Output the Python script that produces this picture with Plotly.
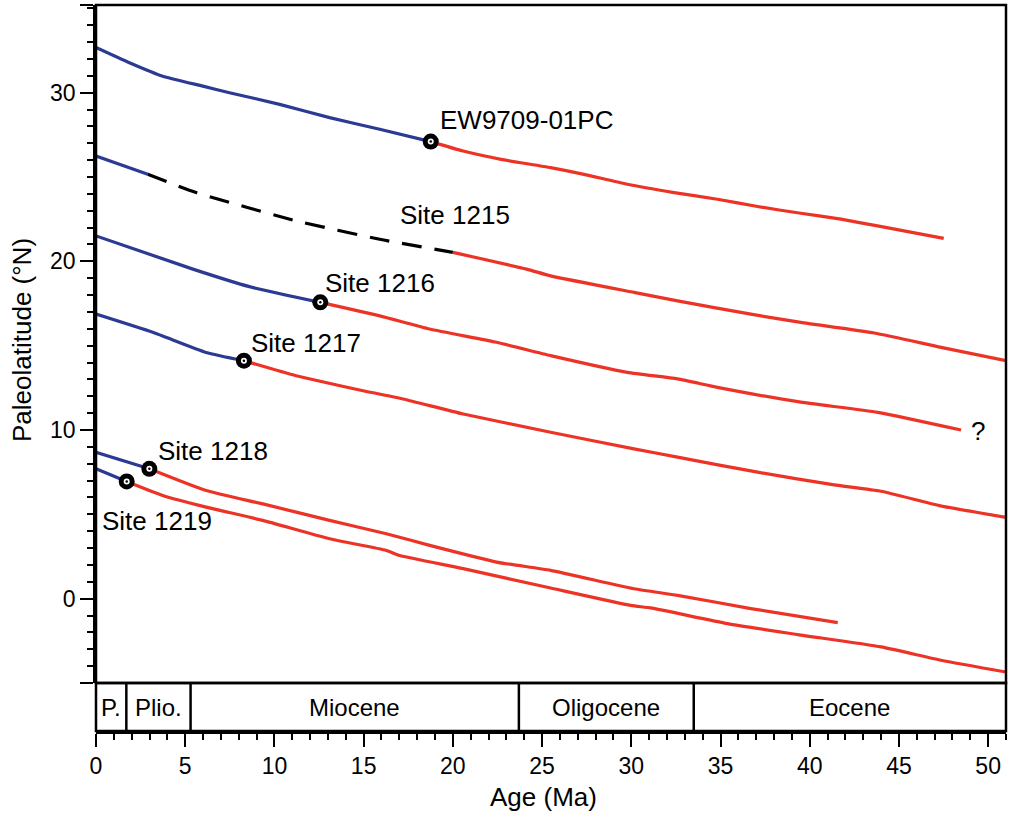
import plotly.graph_objects as go

# ---------------- data ----------------
ew_blue_age = [0, 1.87, 3.74, 5.99, 7.48, 10.29, 13.09, 15.9, 18.76]
ew_blue_lat = [32.68, 31.78, 30.98, 30.39, 30.0, 29.31, 28.52, 27.83, 27.1]
ew_red_age = [18.76, 20.58, 22.7, 25.48, 27.35, 29.78, 32.4, 34.83, 37.08, 39.5, 41.75, 43.8, 47.51]
ew_red_lat = [27.1, 26.54, 26.05, 25.56, 25.16, 24.57, 24.08, 23.68, 23.25, 22.85, 22.5, 22.1, 21.36]

s1215_blue_age = [0, 2.9]
s1215_blue_lat = [26.25, 25.16]
s1215_dash_age = [2.9, 5.61, 11.22, 15.9, 20.0]
s1215_dash_lat = [25.16, 24.08, 22.4, 21.31, 20.53]
s1215_red_age = [20.0, 24.13, 25.48, 30.15, 32.59, 36.7, 39.5, 43.62, 47.36, 51.0]
s1215_red_lat = [20.53, 19.54, 19.14, 18.16, 17.66, 16.87, 16.38, 15.75, 14.9, 14.11]

s1216_blue_age = [0, 5.43, 8.6, 12.57]
s1216_blue_lat = [21.51, 19.54, 18.5, 17.57]
s1216_red_age = [12.57, 15.9, 18.7, 22.45, 25.48, 29.78, 32.59, 34.83, 39.5, 43.81, 48.48]
s1216_red_lat = [17.57, 16.77, 15.99, 15.2, 14.41, 13.42, 13.03, 12.53, 11.65, 11.05, 10.0]

s1217_blue_age = [0, 3.18, 6.17, 8.29]
s1217_blue_lat = [16.87, 15.79, 14.6, 14.11]
s1217_red_age = [8.29, 11.22, 14.97, 17.21, 20.58, 25.48, 30.15, 32.59, 37.08, 41.37, 44.0, 47.27, 51.0]
s1217_red_lat = [14.11, 13.22, 12.33, 11.84, 10.95, 9.87, 8.88, 8.39, 7.5, 6.75, 6.37, 5.52, 4.82]

s1218_blue_age = [0, 2.99]
s1218_blue_lat = [8.68, 7.7]
s1218_red_age = [2.99, 6.17, 9.35, 13.09, 16.27, 18.7, 22.45, 25.48, 30.15, 32.59, 36.7, 41.57]
s1218_red_lat = [7.7, 6.41, 5.62, 4.64, 3.85, 3.16, 2.17, 1.68, 0.59, 0.2, -0.59, -1.42]

s1219_blue_age = [0, 1.72]
s1219_blue_lat = [7.7, 6.95]
s1219_red_age = [1.72, 3.74, 6.17, 9.35, 13.09, 16.27, 17.02, 20.58, 25.48, 29.97, 31.09, 35.39, 39.32, 44.0, 47.36, 51.0]
s1219_red_lat = [6.95, 6.12, 5.43, 4.64, 3.55, 2.86, 2.56, 1.78, 0.63, -0.4, -0.55, -1.48, -2.13, -2.86, -3.65, -4.35]

site_marker_age = [18.76, 12.57, 8.29, 2.99, 1.72]
site_marker_lat = [27.1, 17.57, 14.11, 7.7, 6.95]

label_text = ["EW9709-01PC", "Site 1215", "Site 1216", "Site 1217", "Site 1218", "Site 1219", "?"]
label_age = [19.19, 16.95, 12.74, 8.59, 3.37, 0.22, 48.93]
label_lat = [28.36, 22.74, 18.71, 15.16, 8.76, 4.62, 9.95]

epoch_names = ["P.", "Plio.", "Miocene", "Oligocene", "Eocene"]
epoch_bounds = [0, 1.7, 5.3, 23.7, 33.5, 51]

# ---------------- style ----------------
BLUE = "#2b3a93"
RED = "#ec3326"
FONT = "Liberation Sans"
LW = 3.2

fig = go.Figure()

def add_line(x, y, color, dash="solid"):
    fig.add_trace(go.Scatter(x=x, y=y, mode="lines", xaxis="x", yaxis="y",
                             line=dict(color=color, width=LW, dash=dash,
                                       shape="spline", smoothing=0.5),
                             showlegend=False, hoverinfo="skip"))

for ba, bl, ra, rl in [(ew_blue_age, ew_blue_lat, ew_red_age, ew_red_lat),
                       (s1216_blue_age, s1216_blue_lat, s1216_red_age, s1216_red_lat),
                       (s1217_blue_age, s1217_blue_lat, s1217_red_age, s1217_red_lat),
                       (s1218_blue_age, s1218_blue_lat, s1218_red_age, s1218_red_lat),
                       (s1219_blue_age, s1219_blue_lat, s1219_red_age, s1219_red_lat)]:
    add_line(ba, bl, BLUE)
    add_line(ra, rl, RED)

add_line(s1215_blue_age, s1215_blue_lat, BLUE)
add_line(s1215_dash_age, s1215_dash_lat, "black", dash="20px,13px")
add_line(s1215_red_age, s1215_red_lat, RED)

# markers: black disc, white ring, black centre
for size, col in [(16, "black"), (6, "white"), (2.5, "black")]:
    fig.add_trace(go.Scatter(x=site_marker_age, y=site_marker_lat, mode="markers",
                             marker=dict(size=size, color=col, line=dict(width=0)),
                             showlegend=False, hoverinfo="skip"))

for t, a, l in zip(label_text, label_age, label_lat):
    fig.add_annotation(x=a, y=l, xref="x", yref="y", text=t, showarrow=False,
                       xanchor="left", yanchor="middle",
                       font=dict(family=FONT, size=26, color="black"))

DOM = 48 / 726.0  # epoch bar height fraction

# epoch labels
for i, name in enumerate(epoch_names):
    fig.add_annotation(x=(epoch_bounds[i] + epoch_bounds[i + 1]) / 2, y=0.5,
                       xref="x", yref="y2", text=name, showarrow=False,
                       xanchor="center", yanchor="middle",
                       font=dict(family=FONT, size=24, color="black"))

shapes = []
# epoch dividers
for b in epoch_bounds[1:-1]:
    shapes.append(dict(type="line", xref="x", yref="paper", x0=b, x1=b, y0=0, y1=DOM,
                       line=dict(color="black", width=2.5)))
# frames
shapes.append(dict(type="rect", xref="paper", yref="paper", x0=0, x1=1, y0=DOM, y1=1,
                   line=dict(color="black", width=2.5)))
shapes.append(dict(type="rect", xref="paper", yref="paper", x0=0, x1=1, y0=0, y1=DOM,
                   line=dict(color="black", width=2.5)))

# axis titles
fig.add_annotation(x=(22 - 96) / 910, y=(731 - 340) / 726, xref="paper", yref="paper",
                   text="Paleolatitude (°N)", textangle=-90, showarrow=False,
                   xanchor="center", yanchor="middle",
                   font=dict(family=FONT, size=26, color="black"))
fig.add_annotation(x=(543 - 96) / 910, y=(731 - 797) / 726, xref="paper", yref="paper",
                   text="Age (Ma)", showarrow=False, xanchor="center", yanchor="middle",
                   font=dict(family=FONT, size=26, color="black"))

fig.update_layout(
    width=1009, height=818,
    margin=dict(l=96, r=3, t=5, b=87),
    paper_bgcolor="white", plot_bgcolor="white",
    font=dict(family=FONT, size=23, color="black"),
    shapes=shapes,
    xaxis=dict(range=[0, 51], anchor="y2", showgrid=False, zeroline=False,
               showline=True, linecolor="black", linewidth=2.5,
               ticks="outside", ticklen=13, tickwidth=2, tickcolor="black",
               tickmode="linear", tick0=0, dtick=5,
               tickfont=dict(family=FONT, size=23, color="black"),
               minor=dict(ticks="outside", ticklen=6, tickwidth=1.5, tickcolor="black",
                          tickmode="linear", tick0=0, dtick=1, showgrid=False)),
    yaxis=dict(range=[-5, 35.2], domain=[DOM, 1], anchor="x", showgrid=False, zeroline=False,
               showline=True, linecolor="black", linewidth=2.5,
               ticks="outside", ticklen=13, tickwidth=2, tickcolor="black",
               tickmode="array", tickvals=[-5, 0, 10, 20, 30, 35.2],
               ticktext=["", "0", "10", "20", "30", ""],
               tickfont=dict(family=FONT, size=23, color="black"),
               minor=dict(ticks="outside", ticklen=6, tickwidth=1.5, tickcolor="black",
                          tickmode="linear", tick0=0, dtick=1, showgrid=False)),
    yaxis2=dict(range=[0, 1], domain=[0, DOM], anchor="x", showgrid=False, zeroline=False,
                showline=False, showticklabels=False, ticks=""),
)

fig.write_html("out.html")
